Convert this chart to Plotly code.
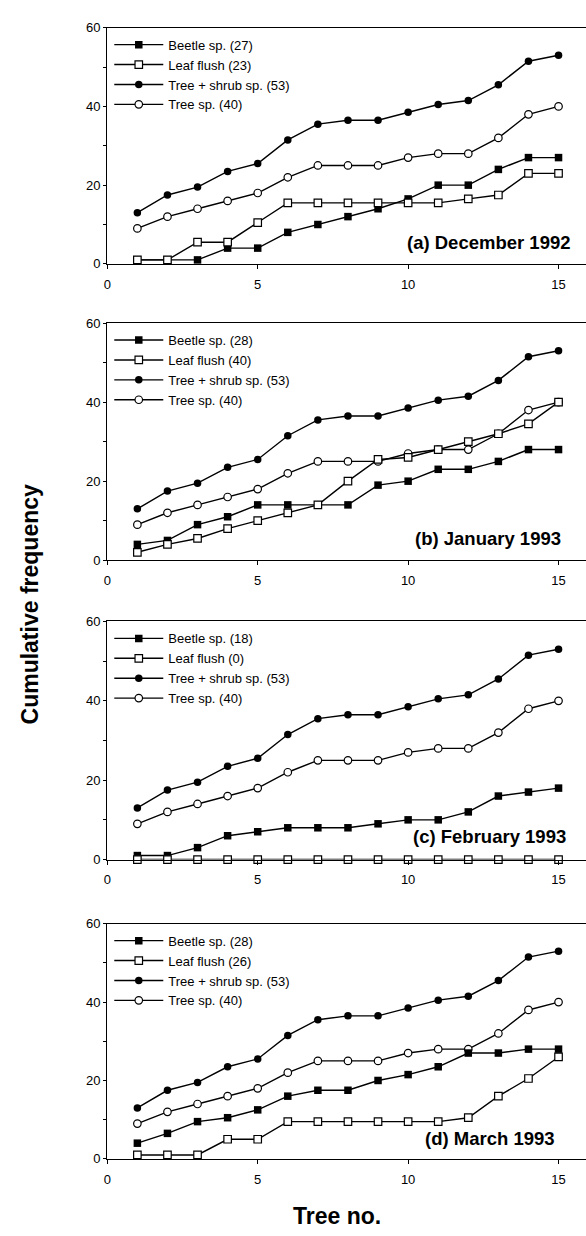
import plotly.graph_objects as go

trees = list(range(1, 16))

# Cumulative frequency per tree (same in every panel)
tree_shrub = [13, 17.5, 19.5, 23.5, 25.5, 31.5, 35.5, 36.5, 36.5, 38.5, 40.5, 41.5, 45.5, 51.5, 53]
tree_sp = [9, 12, 14, 16, 18, 22, 25, 25, 25, 27, 28, 28, 32, 38, 40]

# (a) December 1992
beetle_dec = [1, 1, 1, 4, 4, 8, 10, 12, 14, 16.5, 20, 20, 24, 27, 27]
leaf_dec = [1, 1, 5.5, 5.5, 10.5, 15.5, 15.5, 15.5, 15.5, 15.5, 15.5, 16.5, 17.5, 23, 23]
# (b) January 1993
beetle_jan = [4, 5, 9, 11, 14, 14, 14, 14, 19, 20, 23, 23, 25, 28, 28]
leaf_jan = [2, 4, 5.5, 8, 10, 12, 14, 20, 25.5, 26, 28, 30, 32, 34.5, 40]
# (c) February 1993
beetle_feb = [1, 1, 3, 6, 7, 8, 8, 8, 9, 10, 10, 12, 16, 17, 18]
leaf_feb = [0, 0, 0, 0, 0, 0, 0, 0, 0, 0, 0, 0, 0, 0, 0]
# (d) March 1993
beetle_mar = [4, 6.5, 9.5, 10.5, 12.5, 16, 17.5, 17.5, 20, 21.5, 23.5, 27, 27, 28, 28]
leaf_mar = [1, 1, 1, 5, 5, 9.5, 9.5, 9.5, 9.5, 9.5, 9.5, 10.5, 16, 20.5, 26]

panel_titles = ["(a) December 1992", "(b) January 1993", "(c) February 1993", "(d) March 1993"]
beetle_totals = [27, 28, 18, 28]
leaf_totals = [23, 40, 0, 26]
tree_shrub_total = 53
tree_sp_total = 40

beetles = [beetle_dec, beetle_jan, beetle_feb, beetle_mar]
leaves = [leaf_dec, leaf_jan, leaf_feb, leaf_mar]

x_ticks = [0, 5, 10, 15]
y_ticks = [0, 20, 40, 60]
y_minor = [10, 30, 50]

W, H = 586, 1236
FONT = "Liberation Sans, Arial, Helvetica, sans-serif"
tops = [21, 320, 622, 928]
bottoms = [260, 560, 863, 1166]
LEFT = 104
XSCALE = 30.29  # px per tree
title_pos = [(15.48, 5.3), (15.15, 5.5), (15.32, 5.8), (14.96, 5.1)]


def px(p):
    return p / W


def py(p):
    return 1 - p / H


fig = go.Figure()
LW = 1.4
MS = 7.5

for i in range(4):
    xa = "x" if i == 0 else f"x{i+1}"
    ya = "y" if i == 0 else f"y{i+1}"
    lg = "legend" if i == 0 else f"legend{i+1}"
    common = dict(x=trees, xaxis=xa, yaxis=ya, legend=lg, mode="lines+markers",
                  line=dict(color="black", width=LW), cliponaxis=False)
    fig.add_trace(go.Scatter(y=tree_shrub, name=f"Tree + shrub sp. ({tree_shrub_total})",
                             marker=dict(symbol="circle", size=MS, color="black"),
                             legendrank=3, **common))
    fig.add_trace(go.Scatter(y=tree_sp, name=f"Tree sp. ({tree_sp_total})",
                             marker=dict(symbol="circle", size=MS, color="white",
                                         line=dict(color="black", width=1.2)),
                             legendrank=4, **common))
    fig.add_trace(go.Scatter(y=beetles[i], name=f"Beetle sp. ({beetle_totals[i]})",
                             marker=dict(symbol="square", size=MS, color="black"),
                             legendrank=1, **common))
    fig.add_trace(go.Scatter(y=leaves[i], name=f"Leaf flush ({leaf_totals[i]})",
                             marker=dict(symbol="square", size=MS, color="white",
                                         line=dict(color="black", width=1.2)),
                             legendrank=2, **common))

layout = dict(
    width=W, height=H,
    margin=dict(l=0, r=0, t=0, b=0),
    paper_bgcolor="white", plot_bgcolor="white",
    font=dict(family=FONT, color="black", size=13),
    showlegend=True,
)

for i in range(4):
    sfx = "" if i == 0 else str(i + 1)
    dom = [py(bottoms[i]), py(tops[i])]
    layout[f"xaxis{sfx}"] = dict(
        domain=[px(LEFT), 1], range=[0, (W - LEFT) / XSCALE], anchor=f"y{sfx}",
        tickvals=x_ticks, ticks="outside", ticklen=4, tickwidth=1, tickcolor="black",
        showline=True, linecolor="black", linewidth=1.3, mirror=True,
        showgrid=False, zeroline=False, tickfont=dict(size=13), ticklabelstandoff=4,
    )
    layout[f"yaxis{sfx}"] = dict(
        domain=dom, range=[0, 60], anchor=f"x{sfx}",
        tickvals=y_ticks, ticks="outside", ticklen=3, tickwidth=1, tickcolor="black",
        minor=dict(tickvals=y_minor, ticks="outside", ticklen=3, tickcolor="black"),
        showline=True, linecolor="black", linewidth=1.3,
        showgrid=False, zeroline=False, tickfont=dict(size=13),
    )
    lgname = "legend" if i == 0 else f"legend{i+1}"
    layout[lgname] = dict(
        x=px(106), y=py(tops[i] + 2), xanchor="left", yanchor="top",
        bgcolor="rgba(0,0,0,0)", font=dict(size=13, family=FONT),
        itemwidth=49, tracegroupgap=0, traceorder="normal",
    )

annotations = []
for i in range(4):
    sfx = "" if i == 0 else str(i + 1)
    annotations.append(dict(
        text=f"<b>{panel_titles[i]}</b>", x=title_pos[i][0], y=title_pos[i][1],
        xref=f"x{sfx}", yref=f"y{sfx}", xanchor="right", yanchor="middle",
        showarrow=False, font=dict(size=18.5, family=FONT),
    ))
annotations.append(dict(
    text="<b>Cumulative frequency</b>", x=px(26), y=py(605), xref="paper", yref="paper",
    textangle=-90, showarrow=False, font=dict(size=23, family=FONT),
    xanchor="center", yanchor="middle",
))
annotations.append(dict(
    text="<b>Tree no.</b>", x=px(335), y=py(1224), xref="paper", yref="paper",
    showarrow=False, font=dict(size=23, family=FONT), xanchor="center", yanchor="middle",
))
layout["annotations"] = annotations

fig.update_layout(**layout)
fig.write_html("out.html", config={"displayModeBar": False},
               post_script="document.body.style.margin='0px';")
